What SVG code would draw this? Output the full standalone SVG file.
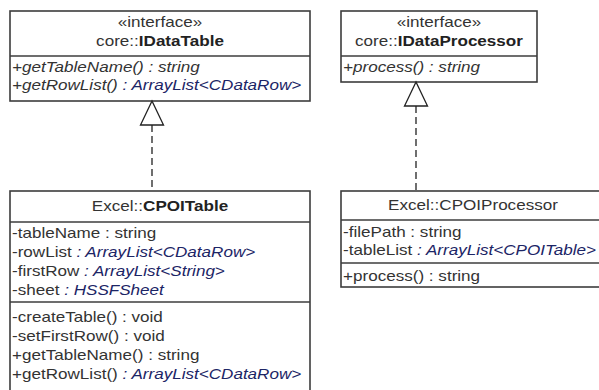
<svg xmlns="http://www.w3.org/2000/svg" width="599" height="390" viewBox="0 0 599 390">
  <style>
    .box { fill: #ffffff; stroke: #3c3c3c; stroke-width: 1.6; }
    .sep { stroke: #3c3c3c; stroke-width: 1.6; }
    text { font-family: "Liberation Sans", Arial, sans-serif; font-size: 14px; fill: #333333; }
    .c { text-anchor: middle; }
    .b { font-weight: bold; fill: #222222; }
    .i { font-style: italic; }
    .t { font-style: italic; fill: #1c2566; }
    .dep { fill: none; stroke: #222222; stroke-width: 1.3; stroke-dasharray: 7 4; }
    .head { fill: #ffffff; stroke: #222222; stroke-width: 1.3; }
  </style>

  <!-- interface core::IDataTable -->
  <g id="IDataTable">
    <rect class="box" x="10" y="11" width="300" height="90"/>
    <line class="sep" x1="10" y1="56" x2="310" y2="56"/>
    <g transform="translate(10 0) scale(1.22 1)">
      <text class="c" x="122.95" y="27">«interface»</text>
      <text class="c" x="122.95" y="46">core::<tspan class="b">IDataTable</tspan></text>
      <text class="i" x="1.64" y="72">+getTableName() : string</text>
      <text class="i" x="1.64" y="90">+getRowList()<tspan class="t"> : ArrayList&lt;CDataRow&gt;</tspan></text>
    </g>
  </g>

  <!-- interface core::IDataProcessor -->
  <g id="IDataProcessor">
    <rect class="box" x="341" y="11" width="196" height="71"/>
    <line class="sep" x1="341" y1="56" x2="537" y2="56"/>
    <g transform="translate(341 0) scale(1.22 1)">
      <text class="c" x="80.3" y="27">«interface»</text>
      <text class="c" x="80.3" y="46">core::<tspan class="b">IDataProcessor</tspan></text>
      <text class="i" x="1.64" y="72">+process() : string</text>
    </g>
  </g>

  <!-- class Excel::CPOITable -->
  <g id="CPOITable">
    <rect class="box" x="10" y="191" width="300" height="210"/>
    <line class="sep" x1="10" y1="222" x2="310" y2="222"/>
    <line class="sep" x1="10" y1="302" x2="310" y2="302"/>
    <g transform="translate(10 0) scale(1.22 1)">
      <text class="c" x="122.95" y="211">Excel::<tspan class="b">CPOITable</tspan></text>
      <text x="1.64" y="238">-tableName : string</text>
      <text x="1.64" y="257">-rowList<tspan class="t"> : ArrayList&lt;CDataRow&gt;</tspan></text>
      <text x="1.64" y="276">-firstRow<tspan class="t"> : ArrayList&lt;String&gt;</tspan></text>
      <text x="1.64" y="295">-sheet<tspan class="t"> : HSSFSheet</tspan></text>
      <text x="1.64" y="322">-createTable() : void</text>
      <text x="1.64" y="341">-setFirstRow() : void</text>
      <text x="1.64" y="360">+getTableName() : string</text>
      <text x="1.64" y="379">+getRowList()<tspan class="t"> : ArrayList&lt;CDataRow&gt;</tspan></text>
    </g>
  </g>

  <!-- class Excel::CPOIProcessor -->
  <g id="CPOIProcessor">
    <rect class="box" x="341" y="191" width="280" height="96"/>
    <line class="sep" x1="341" y1="220" x2="621" y2="220"/>
    <line class="sep" x1="341" y1="263" x2="621" y2="263"/>
    <g transform="translate(341 0) scale(1.22 1)">
      <text class="c" x="108.2" y="210">Excel::CPOIProcessor</text>
      <text x="1.64" y="237">-filePath : string</text>
      <text x="1.64" y="255">-tableList<tspan class="t"> : ArrayList&lt;CPOITable&gt;</tspan></text>
      <text x="1.64" y="281">+process() : string</text>
    </g>
  </g>

  <!-- realization connectors -->
  <g id="connectors">
    <line class="dep" x1="152" y1="125" x2="152" y2="191"/>
    <polygon class="head" points="152,101 140.5,125 163.5,125"/>
    <line class="dep" x1="416" y1="106" x2="416" y2="191"/>
    <polygon class="head" points="416,82 404.5,106 427.5,106"/>
  </g>
</svg>
